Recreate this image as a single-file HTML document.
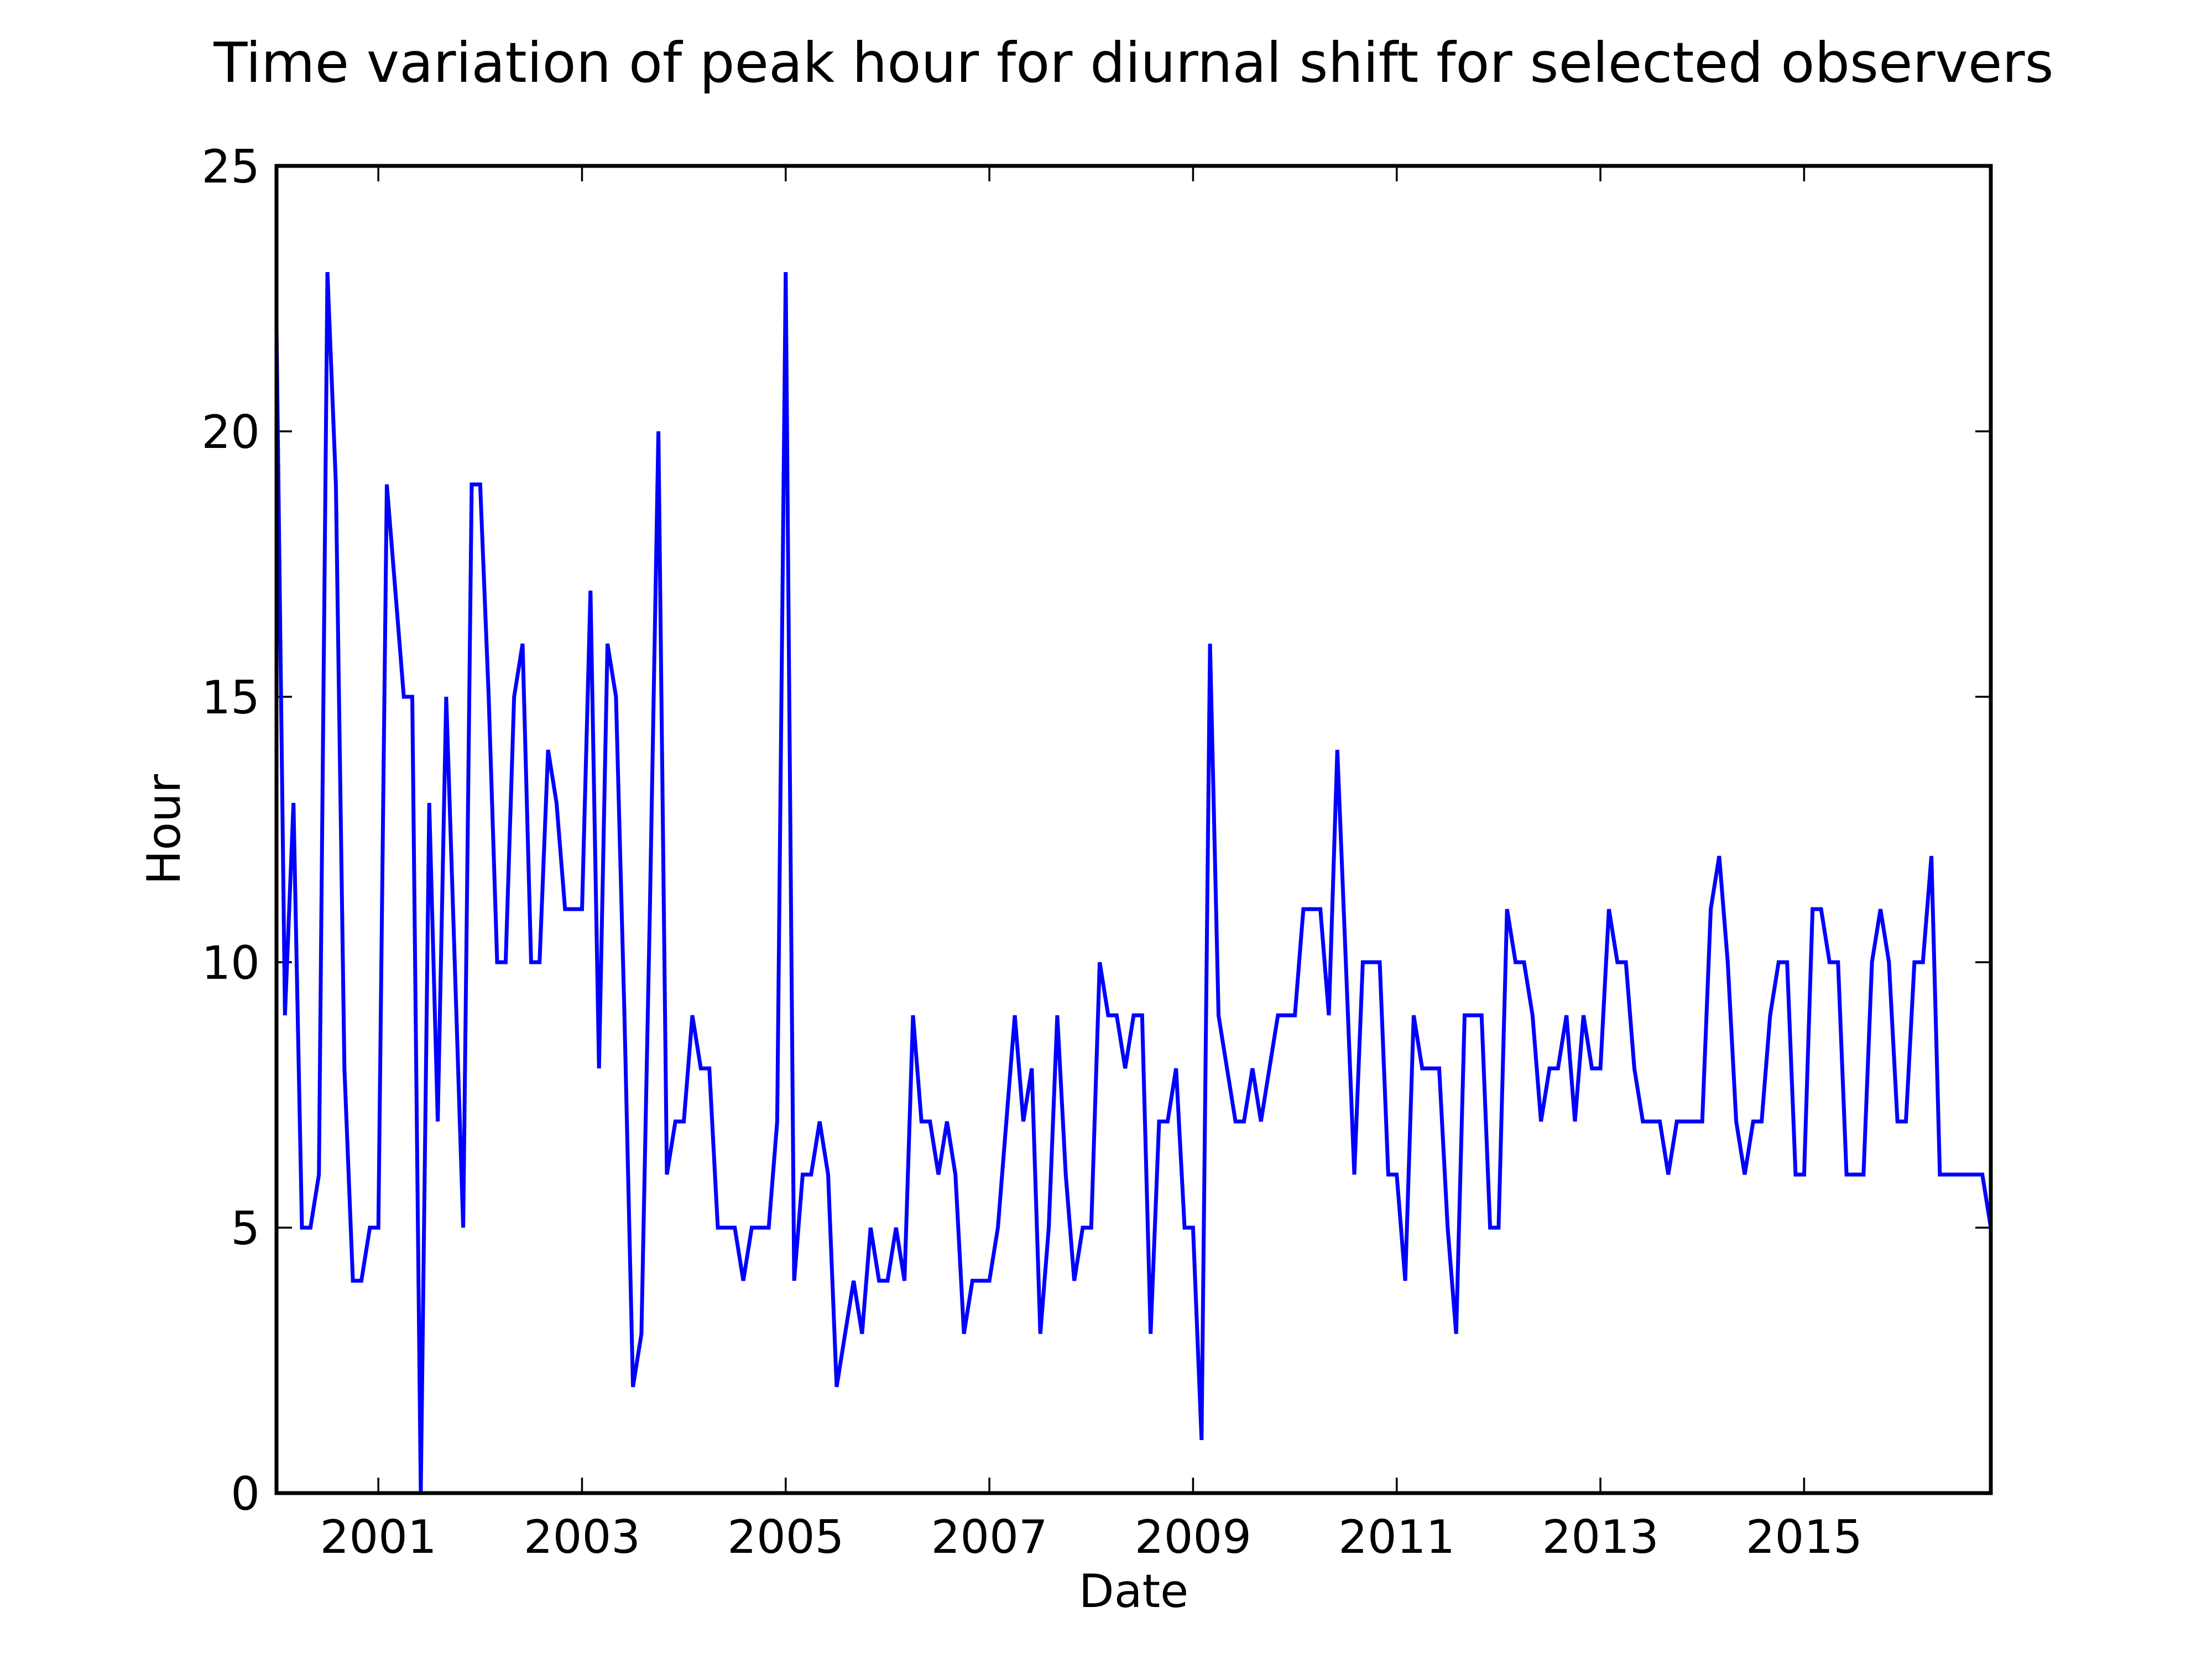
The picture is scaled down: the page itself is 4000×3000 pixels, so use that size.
<!DOCTYPE html>
<html><head><meta charset="utf-8">
<style>
html,body{margin:0;padding:0;background:#fff;}
svg{display:block;font-family:"DejaVu Sans","Liberation Sans",sans-serif;}
</style></head>
<body>
<svg id="chart" width="4000" height="3000" viewBox="0 0 4000 3000" xmlns="http://www.w3.org/2000/svg">
<rect x="0" y="0" width="4000" height="3000" fill="#fff"/>
<text x="2050" y="148" font-size="100" text-anchor="middle">Time variation of peak hour for diurnal shift for selected observers</text>
<text x="2050" y="2906" font-size="83" text-anchor="middle">Date</text>
<text x="0" y="0" font-size="83" text-anchor="middle" transform="translate(325,1500) rotate(-90)">Hour</text>
<g id="ticks"></g>
<path id="series" fill="none" stroke="#0000ff" stroke-width="7" stroke-linejoin="miter"/>
<rect x="500" y="300" width="3100" height="2400" fill="none" stroke="#000" stroke-width="7"/>
</svg>
<script>
// monthly values starting Jan 2000 (month index 0)
const hours = [22,9,13,5,5,6,23,19,8,4,4,5,5,19,17,15,15,0,13,7,15,10,5,19,19,15,10,10,15,16,10,10,14,13,11,11,11,17,8,16,15,9,2,3,11,20,6,7,7,9,8,8,5,5,5,4,5,5,5,7,23,4,6,6,7,6,2,3,4,3,5,4,4,5,4,9,7,7,6,7,6,3,4,4,4,5,7,9,7,8,3,5,9,6,4,5,5,10,9,9,8,9,9,3,7,7,8,5,5,1,16,9,8,7,7,8,7,8,9,9,9,11,11,11,9,14,10,6,10,10,10,6,6,4,9,8,8,8,5,3,9,9,9,5,5,11,10,10,9,7,8,8,9,7,9,8,8,11,10,10,8,7,7,7,6,7,7,7,7,11,12,10,7,6,7,7,9,10,10,6,6,11,11,10,10,6,6,6,10,11,10,7,7,10,10,12,6,6,6,6,6,6,5];
const yTicks = [0,5,10,15,20,25];
const xTickYears = [2001,2003,2005,2007,2009,2011,2013,2015];

const L=500,R=3600,T=300,B=2700;
const nMax = hours.length-1;
function xs(m){return L+(R-L)*m/nMax;}
function ys(v){return B-(B-T)*v/25;}

const NS="http://www.w3.org/2000/svg";
const g=document.getElementById('ticks');
let d="";
hours.forEach((v,i)=>{d+=(i?"L":"M")+xs(i).toFixed(1)+","+ys(v).toFixed(1);});
document.getElementById('series').setAttribute('d',d);

function line(x1,y1,x2,y2,name){
  const l=document.createElementNS(NS,'line');
  l.setAttribute('x1',x1);l.setAttribute('y1',y1);l.setAttribute('x2',x2);l.setAttribute('y2',y2);
  l.setAttribute('stroke','#000');l.setAttribute('stroke-width','3.5');
  
  
  g.appendChild(l);
}
function label(x,y,txt,anchor,name){
  const t=document.createElementNS(NS,'text');
  t.setAttribute('x',x);t.setAttribute('y',y);t.setAttribute('font-size','83');
  t.setAttribute('text-anchor',anchor);t.textContent=txt;
  
  
  g.appendChild(t);
}
yTicks.forEach(v=>{
  const y=ys(v);
  line(L,y,L+28,y,'y-tick');
  line(R,y,R-28,y,'y-tick-right');
  label(470,y+30,String(v),'end','y-tick-label');
});
xTickYears.forEach(yr=>{
  const x=xs((yr-2000)*12);
  line(x,B,x,B-28,'x-tick');
  line(x,T,x,T+28,'x-tick-top');
  label(x,2808,String(yr),'middle','x-tick-label');
});
</script>
</body></html>
